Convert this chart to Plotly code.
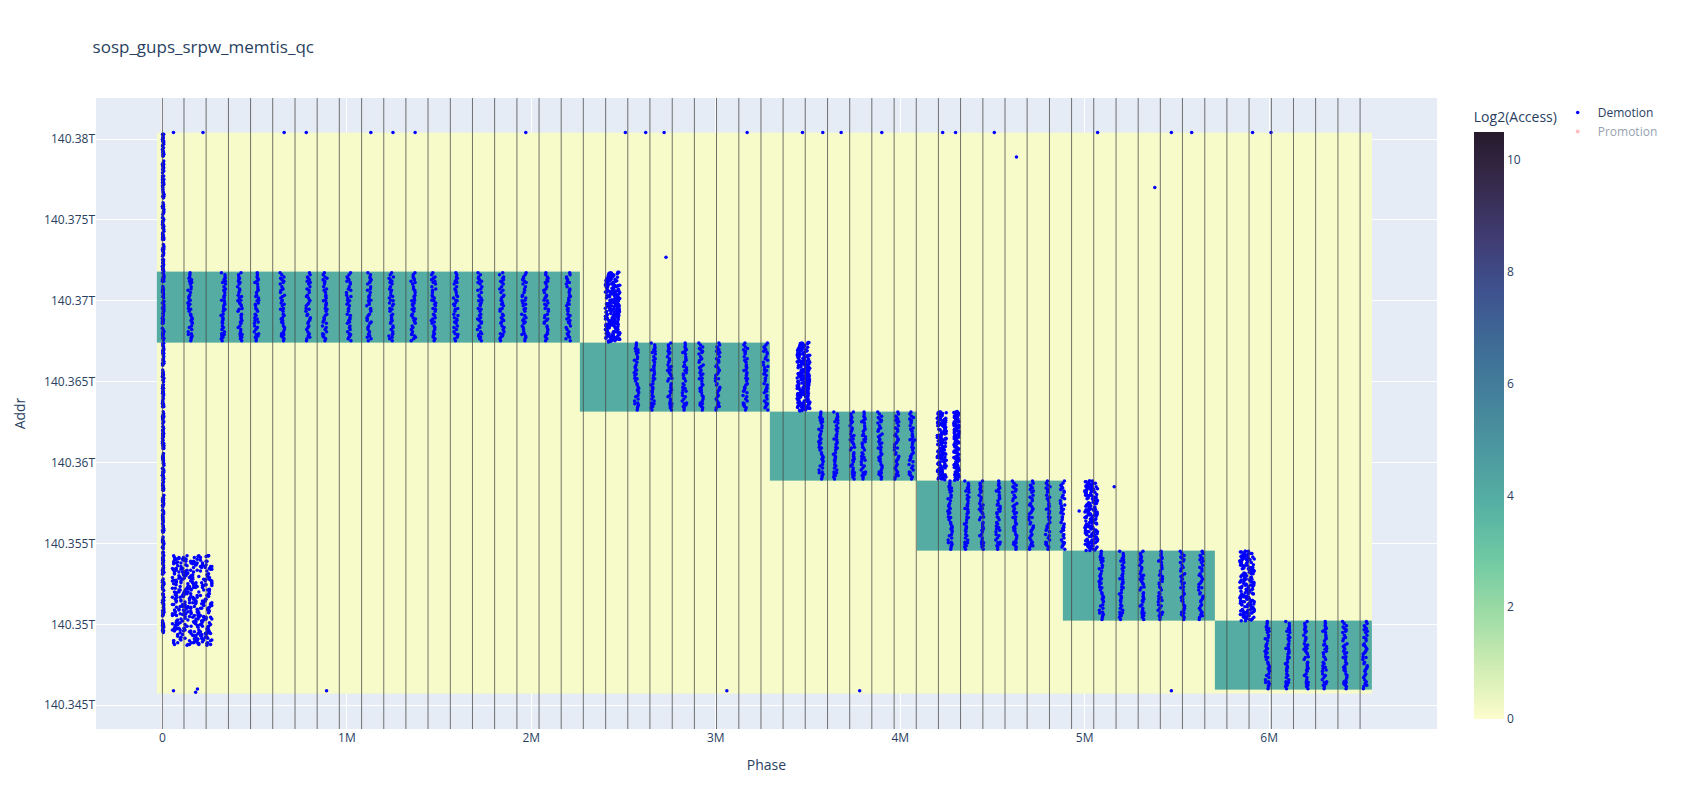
import plotly.graph_objects as go

M = 1e6
T = 1e12

# heatmap cells (edges), block diagonal of hot pages
x_edges = [-0.03, 2.263, 3.292, 4.088, 4.883, 5.708, 6.555]
y_edges = [140.34573, 140.34594, 140.35022, 140.35456, 140.3589,
           140.36317, 140.36744, 140.37178, 140.3804]
bg_level = 0.12
hot_level = 4.0

# phase boundaries (M)
phase_lines = [0.117, 0.237, 0.358, 0.478, 0.598, 0.719, 0.839, 0.959, 1.080, 1.200,
               1.320, 1.440, 1.561, 1.681, 1.801, 1.922, 2.042, 2.162, 2.282, 2.403,
               2.523, 2.643, 2.764, 2.884, 3.004, 3.125, 3.245, 3.365, 3.485, 3.606,
               3.726, 3.846, 3.967, 4.087, 4.207, 4.327, 4.448, 4.568, 4.688, 4.809,
               4.929, 5.049, 5.170, 5.290, 5.410, 5.530, 5.651, 5.771, 5.891, 6.012,
               6.132, 6.252, 6.373, 6.493]

# demotion columns per block (M) : block index -> x positions
block_cols = [
    [0.15, 0.33, 0.42, 0.51, 0.65, 0.79, 0.88, 1.01, 1.12, 1.24, 1.36, 1.47,
     1.59, 1.72, 1.84, 1.96, 2.08, 2.20],
    [2.57, 2.66, 2.75, 2.83, 2.92, 3.01, 3.16, 3.27],
    [3.57, 3.65, 3.74, 3.80, 3.89, 3.98, 4.06],
    [4.27, 4.36, 4.44, 4.53, 4.62, 4.71, 4.80, 4.88],
    [5.09, 5.20, 5.31, 5.41, 5.53, 5.63],
    [5.99, 6.10, 6.20, 6.30, 6.41, 6.52],
]
# dense demotion regions: x0, x1, y0, y1 (M, T)
dense_x0 = [0.0, 0.05, 2.40, 3.44, 4.20, 4.29, 5.00, 5.84]
dense_x1 = [0.008, 0.27, 2.48, 3.51, 4.25, 4.32, 5.07, 5.92]
dense_y0 = [140.3494, 140.3487, 140.36744, 140.36317, 140.3589, 140.3589, 140.35456, 140.35022]
dense_y1 = [140.3804, 140.3543, 140.37178, 140.36744, 140.36317, 140.36317, 140.3589, 140.35456]
dense_passes = [12, 10, 6, 6, 4, 3, 5, 5]

# scattered single demotions
top_x = [0.06, 0.22, 0.66, 0.78, 1.13, 1.25, 1.37, 1.97, 2.51, 2.62, 2.72, 3.17,
         3.47, 3.58, 3.68, 3.90, 4.23, 4.30, 4.51, 5.07, 5.47, 5.58, 5.91, 6.01]
top_y = [140.3804] * len(top_x)
odd_x = [4.63, 5.38, 2.73, 4.08, 4.97, 5.16, 0.06, 0.18, 0.19, 0.89, 3.06, 3.78, 5.47]
odd_y = [140.3789, 140.3770, 140.3727, 140.3614, 140.3570, 140.3585, 140.3459,
         140.3458, 140.3460, 140.3459, 140.3459, 140.3459, 140.3459]

# hand-read spread of dots inside a column (fraction of block height) and x wobble (M)
frac = [0.02, 0.91, 0.35, 0.67, 0.12, 0.48, 0.83, 0.27, 0.59, 0.05, 0.74, 0.40,
        0.96, 0.18, 0.63, 0.31, 0.87, 0.09, 0.52, 0.71, 0.23, 0.44, 0.99, 0.15,
        0.79, 0.38, 0.56, 0.07, 0.93, 0.29, 0.65, 0.47, 0.85, 0.21, 0.60, 0.11,
        0.76, 0.33, 0.54, 0.89]
wob = [0.004, -0.006, 0.010, -0.002, 0.007, -0.009, 0.001, 0.012, -0.004, 0.006,
       -0.011, 0.003, -0.001, 0.009, -0.007, 0.005, -0.003, 0.011, -0.008, 0.002,
       0.008, -0.005, 0.000, -0.010, 0.006, 0.004, -0.012, 0.007, -0.002, 0.010,
       -0.006, 0.003, 0.009, -0.004, 0.001, -0.009, 0.005, 0.012, -0.001, 0.008]

# heatmap z
nrow = len(y_edges) - 1
ncol = len(x_edges) - 1
z = [[bg_level] * ncol for _ in range(nrow)]
for b in range(ncol):
    z[6 - b][b] = hot_level

dx, dy = [], []
for b, cols in enumerate(block_cols):
    lo, hi = y_edges[6 - b], y_edges[7 - b]
    for c, cx in enumerate(cols):
        for i, f in enumerate(frac):
            dx.append((cx + wob[(i + c) % len(wob)]) * M)
            dy.append((lo + (hi - lo) * f) * T)
for x0, x1, y0, y1, n in zip(dense_x0, dense_x1, dense_y0, dense_y1, dense_passes):
    for s in range(n):
        for i, f in enumerate(frac):
            fx = frac[(i + 7 * s + 3) % len(frac)]
            dx.append((x0 + (x1 - x0) * fx) * M)
            dy.append((y0 + (y1 - y0) * ((f + s / n) % 1)) * T)
dx += [v * M for v in top_x + odd_x]
dy += [v * T for v in top_y + odd_y]

fig = go.Figure()
fig.add_trace(go.Heatmap(
    x=[v * M for v in x_edges], y=[v * T for v in y_edges], z=z,
    colorscale="deep", zmin=0, zmax=10.5,
    colorbar=dict(title=dict(text="Log2(Access)"), x=1.02, len=1.0, y=0.5),
    showlegend=False))
fig.add_trace(go.Scatter(x=dx, y=dy, mode="markers", name="Demotion",
                         marker=dict(color="blue", size=3.5)))
fig.add_trace(go.Scatter(x=[None], y=[None], mode="markers", name="Promotion",
                         marker=dict(color="red", size=4, opacity=0.5),
                         visible="legendonly"))
for p in [0.0] + phase_lines:
    fig.add_vline(x=p * M, line=dict(color="rgba(70,70,70,0.75)", width=1))

fig.update_layout(
    title="sosp_gups_srpw_memtis_qc",
    width=1691, height=809,
    margin=dict(l=88, r=262, t=90, b=88),
    showlegend=True,
    xaxis=dict(title="Phase", range=[-0.36 * M, 6.91 * M]),
    yaxis=dict(title="Addr", range=[140.34353 * T, 140.38254 * T]),
    legend=dict(x=1.09, y=1.0, xanchor="left", yanchor="top"),
)
fig.write_html("out.html")
